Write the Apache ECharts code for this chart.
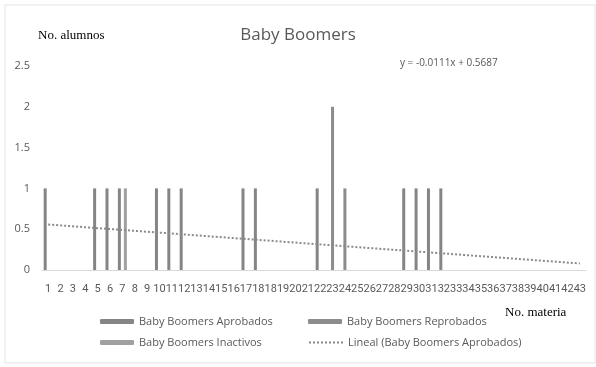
<!DOCTYPE html>
<html><head><meta charset="utf-8">
<script src="https://cdn.jsdelivr.net/npm/echarts@6/dist/echarts.min.js"></script>
<style>html,body{margin:0;padding:0;background:#fff}#c{width:596px;height:367px}</style>
</head><body><div id="c"></div>
<script>
const categories = ['1','2','3','4','5','6','7','8','9','10','11','12','13','14','15','16','17','18','18','19','20','21','22','23','24','25','26','27','28','29','30','31','32','33','34','35','36','37','38','39','40','41','42','43'];
const aprobados = [1,0,0,0,1,1,1,0,0,1,1,1,0,0,0,0,1,1,0,0,0,0,1,0,0,0,0,0,0,1,1,1,1,0,0,0,0,0,0,0,0,0,0,0];
const reprobados = [0,0,0,0,0,0,0,0,0,0,0,0,0,0,0,0,0,0,0,0,0,0,0,2,1,0,0,0,0,0,0,0,0,0,0,0,0,0,0,0,0,0,0,0];
const inactivos = [0,0,0,0,0,0,1,0,0,0,0,0,0,0,0,0,0,0,0,0,0,0,0,0,0,0,0,0,0,0,0,0,0,0,0,0,0,0,0,0,0,0,0,0];
const trendEnds = [0.5576, 0.0803];
const yTicks = [0, 0.5, 1, 1.5, 2, 2.5];

const trend = categories.map((c, i) => i === 0 ? trendEnds[0] : (i === categories.length - 1 ? trendEnds[1] : null));
const gray = '#595959';
const chart = echarts.init(document.getElementById('c'), null, {renderer: 'canvas'});
const legendText = {color: gray, fontSize: 11, fontFamily: 'Open Sans'};
const lg = {itemWidth: 34, itemHeight: 5, padding: 0, textStyle: legendText};
chart.setOption({
  animation: false,
  title: {text: 'Baby Boomers', left: 'center', top: 22,
    textStyle: {color: gray, fontSize: 17, fontWeight: 'normal', fontFamily: 'Open Sans'}},
  grid: {left: 42, right: 10, top: 66, bottom: 97},
  xAxis: {type: 'category', data: categories,
    axisLine: {lineStyle: {color: '#d9d9d9'}}, axisTick: {show: false},
    axisLabel: {interval: 0, color: gray, fontSize: 11, fontFamily: 'Roboto', margin: 14, hideOverlap: false}},
  yAxis: {type: 'value', min: 0, max: yTicks[yTicks.length - 1], interval: 0.5,
    axisLine: {show: false}, axisTick: {show: false}, splitLine: {show: false},
    axisLabel: {color: gray, fontSize: 11, fontFamily: 'Open Sans', margin: 12}},
  legend: [
    Object.assign({data: ['Baby Boomers Aprobados'], left: 100, top: 316}, lg),
    Object.assign({data: ['Baby Boomers Reprobados'], left: 308, top: 316}, lg),
    Object.assign({data: ['Baby Boomers Inactivos'], left: 100, top: 337}, lg),
    Object.assign({data: [{name: 'Lineal (Baby Boomers Aprobados)', itemStyle: {opacity: 0}}], left: 308, top: 337}, lg)
  ],
  graphic: [
    {type: 'rect', shape: {x: 5, y: 5, width: 590, height: 358}, style: {fill: 'none', stroke: '#e3e3e3', lineWidth: 1}, silent: true},
    {type: 'text', left: 38, top: 29, style: {text: 'No. alumnos', font: '13px "Liberation Serif"', fill: '#000'}},
    {type: 'text', left: 505, top: 306, style: {text: 'No. materia', font: '13px "Liberation Serif"', fill: '#000'}},
    {type: 'text', left: 400, top: 58, style: {text: 'y = -0.0111x + 0.5687', font: '10px "Open Sans"', fill: gray}}
  ],
  series: [
    {name: 'Baby Boomers Aprobados', type: 'bar', data: aprobados, barWidth: 3, barGap: '0%', itemStyle: {color: '#858585'}},
    {name: 'Baby Boomers Reprobados', type: 'bar', data: reprobados, barWidth: 3, barGap: '0%', itemStyle: {color: '#8c8c8c'}},
    {name: 'Baby Boomers Inactivos', type: 'bar', data: inactivos, barWidth: 3, barGap: '0%', itemStyle: {color: '#a0a0a0'}},
    {name: 'Lineal (Baby Boomers Aprobados)', type: 'line', data: trend, connectNulls: true, symbol: 'none',
      lineStyle: {color: '#8a8a8a', width: 2, type: [2, 2]}, itemStyle: {color: '#8a8a8a'}}
  ]
});
</script></body></html>
